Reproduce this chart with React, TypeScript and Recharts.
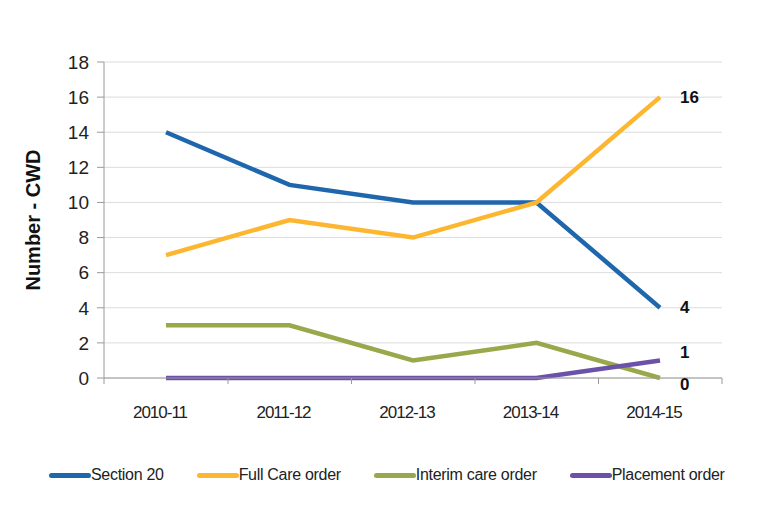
import React from "react";
import {
  LineChart,
  Line,
  XAxis,
  YAxis,
  CartesianGrid,
  Legend,
  LabelList,
  Label,
} from "recharts";

const years = ["2010-11", "2011-12", "2012-13", "2013-14", "2014-15"];
const section20 = [14, 11, 10, 10, 4];
const fullCare = [7, 9, 8, 10, 16];
const interimCare = [3, 3, 1, 2, 0];
const placement = [0, 0, 0, 0, 1];
const yTicks = [0, 2, 4, 6, 8, 10, 12, 14, 16, 18];

const SERIES = [
  { key: "section20", name: "Section 20", color: "#1f67ad" },
  { key: "fullCare", name: "Full Care order", color: "#fdb62f" },
  { key: "interimCare", name: "Interim care order", color: "#98a84b" },
  { key: "placement", name: "Placement order", color: "#6b51a8" },
];

const data = years.map((y, i) => ({
  year: y,
  section20: section20[i],
  fullCare: fullCare[i],
  interimCare: interimCare[i],
  placement: placement[i],
}));

const NARROW = "'Liberation Sans Narrow', 'Arial Narrow', 'Liberation Sans', sans-serif";
const HALF_BAND = 62;

// only the last point gets a value label
const EndLabel = (props: any) => {
  const { x, y, value, index, dy = 0 } = props;
  if (index !== years.length - 1) return null;
  return (
    <text
      x={x + 20}
      y={y + dy}
      dominantBaseline="central"
      fontFamily="'Liberation Sans', Arial, sans-serif"
      fontWeight="bold"
      fontSize={17}
      fill="#111"
    >
      {value}
    </text>
  );
};

// Excel style ticks: marks between categories, label in the middle
const XTick = (props: any) => {
  const { x, y, payload, index } = props;
  return (
    <g>
      <line x1={x + HALF_BAND} x2={x + HALF_BAND} y1={y - 8} y2={y - 2} stroke="#9a9a9a" />
      {index === 0 && <line x1={x - HALF_BAND} x2={x - HALF_BAND} y1={y - 8} y2={y - 2} stroke="#9a9a9a" />}
      <text
        x={x - 6}
        y={y + 32}
        textAnchor="middle"
        fontFamily={NARROW}
        fontSize={17}
        letterSpacing={-1}
        fill="#222"
      >
        {payload.value}
      </text>
    </g>
  );
};

const renderLegend = () => (
  <div style={{ display: "flex", gap: 33, paddingLeft: 49, alignItems: "center" }}>
    {SERIES.map((s) => (
      <div key={s.key} style={{ display: "flex", alignItems: "center" }}>
        <span style={{ width: 42, height: 5, borderRadius: 3, background: s.color, display: "inline-block" }} />
        <span style={{ fontFamily: NARROW, fontSize: 16, color: "#222", letterSpacing: -0.3 }}>{s.name}</span>
      </div>
    ))}
  </div>
);

export default function App() {
  return (
    <div style={{ position: "absolute", left: 0, top: 0, width: 764, height: 530, background: "#fff" }}>
      <LineChart width={764} height={530} data={data} margin={{ top: 62, right: 42, bottom: 104, left: 0 }}>
        <CartesianGrid horizontal vertical={false} stroke="#dcdcdc" />
        <XAxis
          dataKey="year"
          padding={{ left: HALF_BAND, right: HALF_BAND }}
          axisLine={{ stroke: "#9a9a9a" }}
          tickLine={false}
          tick={<XTick />}
          interval={0}
        />
        <YAxis
          width={104}
          domain={[0, 18]}
          ticks={yTicks}
          interval={0}
          axisLine={{ stroke: "#9a9a9a" }}
          tickLine={{ stroke: "#9a9a9a" }}
          tickSize={7}
          tickMargin={8}
          tick={{ fontFamily: "'Liberation Sans', Arial, sans-serif", fontSize: 19, fill: "#222" }}
        >
          <Label
            content={() => (
              <text
                transform="rotate(-90 33 220)"
                x={33}
                y={220}
                textAnchor="middle"
                dominantBaseline="central"
                fontFamily="'Liberation Sans', Arial, sans-serif"
                fontWeight="bold"
                fontSize={20}
                fill="#111"
              >
                Number - CWD
              </text>
            )}
          />
        </YAxis>
        {SERIES.map((s) => (
          <Line
            key={s.key}
            dataKey={s.key}
            name={s.name}
            stroke={s.color}
            strokeWidth={4.5}
            dot={false}
            type="linear"
            isAnimationActive={false}
          >
            <LabelList
              dataKey={s.key}
              content={<EndLabel dy={s.key === "interimCare" ? 6 : s.key === "placement" ? -8 : 0} />}
            />
          </Line>
        ))}
        <Legend
          verticalAlign="bottom"
          content={renderLegend}
          wrapperStyle={{ position: "absolute", top: 466, left: 0, width: 764 }}
        />
      </LineChart>
    </div>
  );
}
